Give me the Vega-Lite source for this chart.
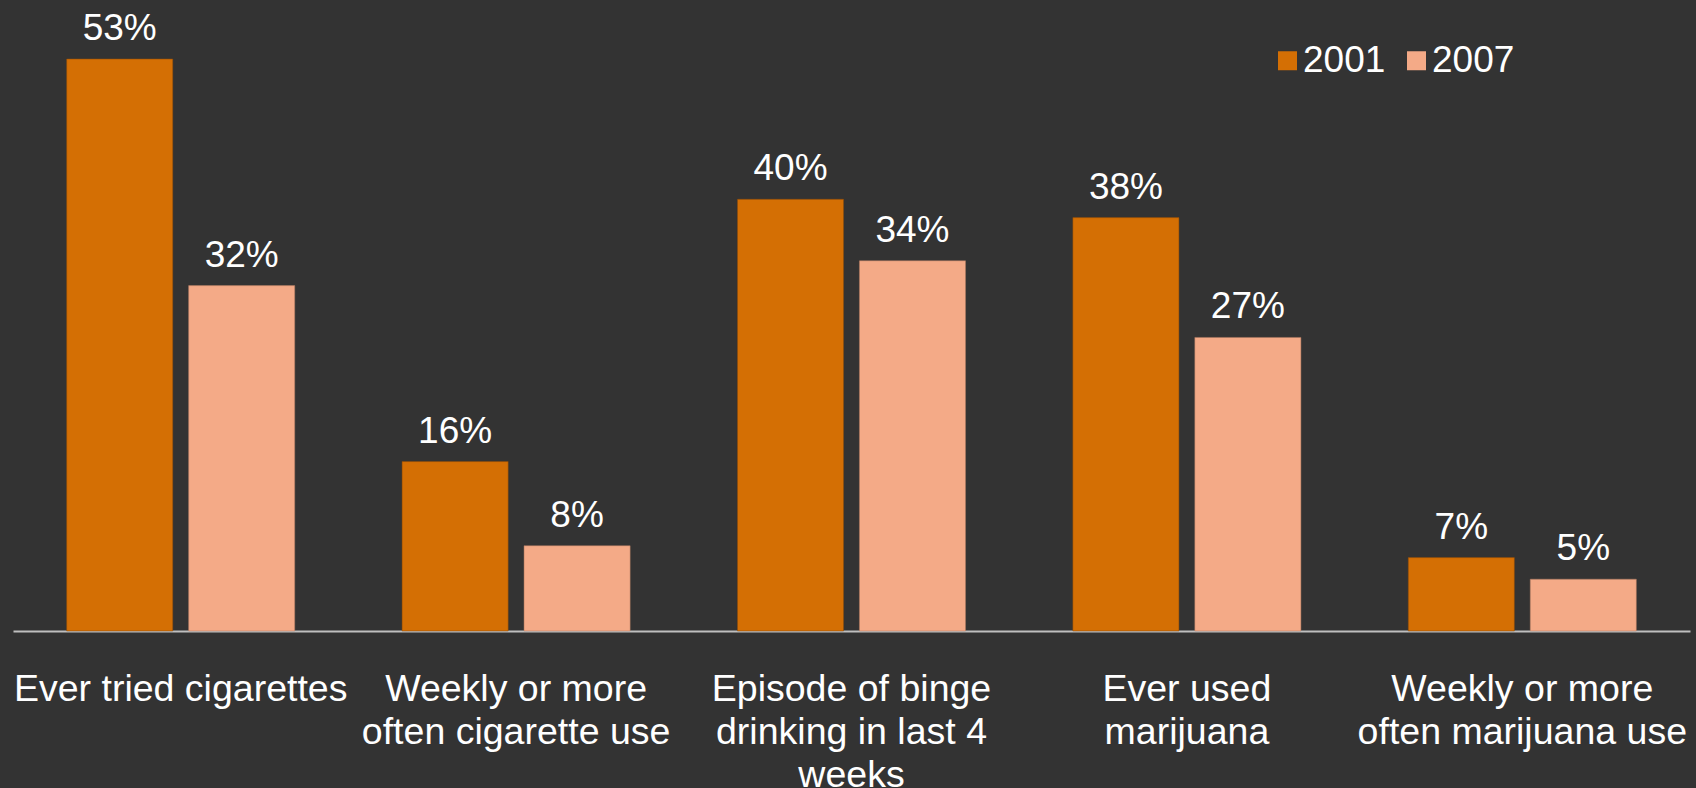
{
  "$schema": "https://vega.github.io/schema/vega-lite/v6.json",
  "autosize": "none",
  "width": 1677,
  "height": 626,
  "padding": {"left": 13, "top": 5, "right": 6, "bottom": 157},
  "background": "#333333",
  "config": {
    "view": {"stroke": null},
    "font": "Liberation Sans",
    "text": {"font": "Liberation Sans"}
  },
  "data": {
    "values": [
      {"cat": "Ever tried cigarettes", "year": "2001", "value": 0.53},
      {"cat": "Ever tried cigarettes", "year": "2007", "value": 0.32},
      {"cat": "Weekly or more|often cigarette use", "year": "2001", "value": 0.157},
      {"cat": "Weekly or more|often cigarette use", "year": "2007", "value": 0.079},
      {"cat": "Episode of binge|drinking in last 4|weeks", "year": "2001", "value": 0.40},
      {"cat": "Episode of binge|drinking in last 4|weeks", "year": "2007", "value": 0.343},
      {"cat": "Ever used|marijuana", "year": "2001", "value": 0.383},
      {"cat": "Ever used|marijuana", "year": "2007", "value": 0.272},
      {"cat": "Weekly or more|often marijuana use", "year": "2001", "value": 0.068},
      {"cat": "Weekly or more|often marijuana use", "year": "2007", "value": 0.048}
    ]
  },
  "encoding": {
    "x": {
      "field": "cat",
      "type": "nominal",
      "sort": null,
      "scale": {"paddingInner": 0.32, "paddingOuter": 0.16},
      "axis": {
        "title": null,
        "labelExpr": "split(datum.label, '|')",
        "labelAngle": 0,
        "labelFontSize": 37.5,
        "labelFont": "Liberation Sans",
        "labelColor": "#FFFFFF",
        "labelLineHeight": 43,
        "labelPadding": 39,
        "labelLimit": 0,
        "ticks": false,
        "domainColor": "#BFBFBF",
        "domainWidth": 2,
        "grid": false
      }
    },
    "xOffset": {
      "field": "year",
      "type": "nominal",
      "scale": {"paddingInner": 0.13, "paddingOuter": 0}
    },
    "y": {
      "field": "value",
      "type": "quantitative",
      "scale": {"domain": [0, 0.58]},
      "axis": null
    }
  },
  "layer": [
    {
      "mark": {"type": "bar", "strokeWidth": 1, "strokeOpacity": 0.5},
      "encoding": {
        "color": {
          "field": "year",
          "type": "nominal",
          "scale": {"domain": ["2001", "2007"], "range": ["#D46F04", "#F4AA87"]},
          "legend": {
            "title": null,
            "orient": "none",
            "direction": "horizontal",
            "legendX": 1256,
            "legendY": 37,
            "symbolType": "square",
            "symbolSize": 361,
            "symbolStrokeWidth": 0,
            "labelFontSize": 37,
            "labelFont": "Liberation Sans",
            "labelColor": "#FFFFFF",
            "labelOffset": -3,
            "columnPadding": 12
          }
        },
        "stroke": {
          "field": "year",
          "type": "nominal",
          "scale": {"domain": ["2001", "2007"], "range": ["#8A4A0A", "#B07A60"]},
          "legend": null
        }
      }
    },
    {
      "mark": {
        "type": "text",
        "baseline": "alphabetic",
        "dy": -19,
        "fontSize": 37,
        "font": "Liberation Sans",
        "color": "#FFFFFF"
      },
      "encoding": {
        "text": {"field": "value", "type": "quantitative", "format": ".0%"}
      }
    }
  ]
}
